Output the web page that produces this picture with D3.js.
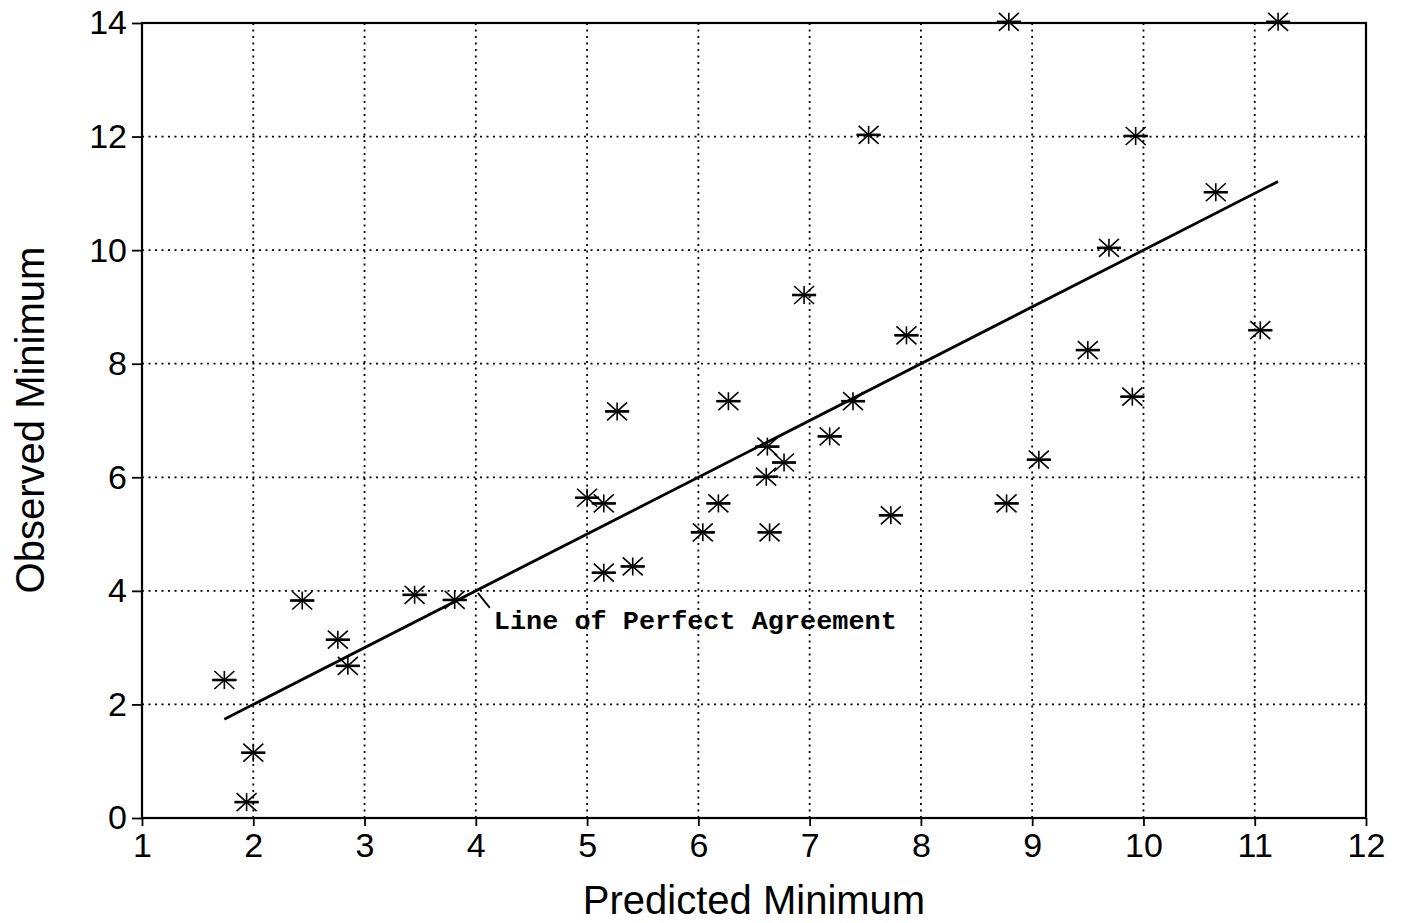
<!DOCTYPE html>
<html><head><meta charset="utf-8">
<script src="https://cdn.jsdelivr.net/npm/d3@7"></script>
<style>body{margin:0;background:#fff;} svg{display:block;}</style>
</head><body>
<svg id="chart" width="1404" height="923"></svg>
<script>
const predicted = [1.74,2.00,1.94,2.44,2.76,2.85,3.45,3.81,5.00,5.15,5.27,5.15,5.41,6.04,6.18,6.27,6.62,6.61,6.77,6.64,6.95,7.18,7.39,7.53,7.73,7.87,8.77,8.79,9.06,9.50,9.69,9.90,9.93,10.65,11.05,11.21];
const observed  = [2.43,1.15,0.28,3.83,3.14,2.68,3.93,3.84,5.64,5.54,7.16,4.32,4.43,5.03,5.54,7.34,6.54,6.01,6.26,5.03,9.21,6.72,7.34,12.03,5.33,8.50,5.54,14.02,6.31,8.24,10.04,7.42,12.01,11.02,8.59,14.02];
const lineX = [1.74, 11.21];
const xTicks = [1,2,3,4,5,6,7,8,9,10,11,12];
const yTicks = [0,2,4,6,8,10,12,14];
const xTitle = "Predicted Minimum";
const yTitle = "Observed Minimum";
const lineLabel = "Line of Perfect Agreement";
const labelAt = [4.0, 4.0];

const svg = d3.select("#chart");
const x = d3.scaleLinear().domain([1,12]).range([142,1366]);
const y = d3.scaleLinear().domain([0,14]).range([818,23]);

// grid
const g = svg.append("g");
g.selectAll(".vg").data(xTicks.slice(1,-1)).join("line")
  .attr("x1",d=>x(d)).attr("x2",d=>x(d)).attr("y1",y(14)).attr("y2",y(0))
  .attr("stroke","#000").attr("stroke-width",1.8).attr("stroke-dasharray","2,4.5");
g.selectAll(".hg").data(yTicks.slice(1,-1)).join("line")
  .attr("y1",d=>y(d)).attr("y2",d=>y(d)).attr("x1",x(1)).attr("x2",x(12))
  .attr("stroke","#000").attr("stroke-width",1.8).attr("stroke-dasharray","2,4.5");

// frame
svg.append("rect").attr("x",x(1)).attr("y",y(14)).attr("width",x(12)-x(1)).attr("height",y(0)-y(14))
  .attr("fill","none").attr("stroke","#000").attr("stroke-width",2.2);

// axes
const ax = svg.append("g").attr("transform",`translate(0,${y(0)})`)
  .call(d3.axisBottom(x).tickValues(xTicks).tickSize(8).tickPadding(7).tickFormat(d3.format("d")));
const ay = svg.append("g").attr("transform",`translate(${x(1)},0)`)
  .call(d3.axisLeft(y).tickValues(yTicks).tickSize(10).tickPadding(5).tickFormat(d3.format("d")));
[ax,ay].forEach(a=>{
  a.select(".domain").remove();
  a.selectAll(".tick line").attr("stroke","#000").attr("stroke-width",1.8);
  a.selectAll(".tick text").attr("fill","#000").attr("font-family","'Liberation Sans', Arial, sans-serif").attr("font-size",34);
});

// perfect agreement line
svg.append("line").attr("x1",x(lineX[0])).attr("y1",y(lineX[0])).attr("x2",x(lineX[1])).attr("y2",y(lineX[1]))
  .attr("stroke","#000").attr("stroke-width",2.8);

// leader + label
svg.append("line").attr("x1",x(labelAt[0])+2).attr("y1",y(labelAt[1])+2).attr("x2",x(labelAt[0])+14).attr("y2",y(labelAt[1])+17)
  .attr("stroke","#000").attr("stroke-width",1.8);
svg.append("text").attr("x",x(labelAt[0])+18).attr("y",y(labelAt[1])+38)
  .attr("font-family","'Liberation Mono','Courier New',monospace").attr("font-size",26).attr("font-weight","bold")
  .attr("textLength",403).attr("lengthAdjust","spacingAndGlyphs").attr("fill","#000").text(lineLabel);

// asterisk markers
const pts = predicted.map((p,i)=>({p, o: observed[i]}));
const star = svg.append("g").selectAll("g").data(pts).join("g")
  .attr("transform",d=>`translate(${x(d.p)},${y(d.o)})`);
const arms = [[-12,0,12,0],[0,-9,0,9],[-10,-9,10,9],[-10,9,10,-9]];
arms.forEach(a=>{
  star.append("line").attr("x1",a[0]).attr("y1",a[1]).attr("x2",a[2]).attr("y2",a[3])
    .attr("stroke","#000").attr("stroke-width",1.6);
});
star.append("line").attr("x1",-12).attr("y1",0).attr("x2",12).attr("y2",0).attr("stroke","#000").attr("stroke-width",2.6);

// titles
svg.append("text").attr("x",754).attr("y",914).attr("text-anchor","middle")
  .attr("font-family","'Liberation Sans', Arial, sans-serif").attr("font-size",40).attr("fill","#000").text(xTitle);
svg.append("text").attr("transform","translate(44,420) rotate(-90)").attr("text-anchor","middle")
  .attr("font-family","'Liberation Sans', Arial, sans-serif").attr("font-size",40).attr("fill","#000").text(yTitle);
</script>
</body></html>
